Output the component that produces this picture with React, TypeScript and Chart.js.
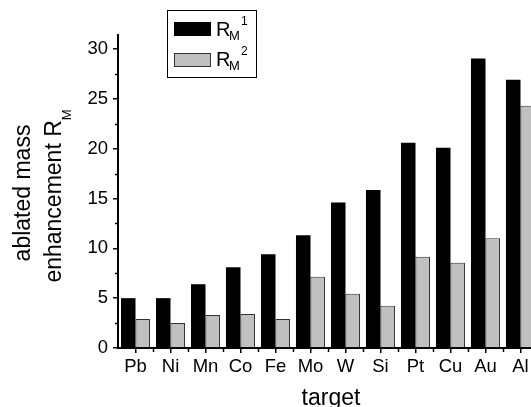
import React, { useEffect, useRef } from "react";
import { Chart, registerables } from "chart.js";

Chart.register(...registerables);

const categories = ["Pb", "Ni", "Mn", "Co", "Fe", "Mo", "W", "Si", "Pt", "Cu", "Au", "Al"];
const rm1 = [5.0, 5.0, 6.4, 8.1, 9.4, 11.3, 14.6, 15.85, 20.6, 20.1, 29.05, 26.9];
const rm2 = [2.9, 2.5, 3.3, 3.4, 2.9, 7.15, 5.45, 4.25, 9.15, 8.55, 11.0, 24.3];
const yTicks = [0, 5, 10, 15, 20, 25, 30];

const FONT = "'Liberation Sans', Arial, Helvetica, sans-serif";

const decorPlugin = {
  id: "decor",
  afterDraw(chart: any) {
    const ctx = chart.ctx as CanvasRenderingContext2D;
    const area = chart.chartArea;
    const ys = chart.scales.y;
    ctx.save();
    ctx.strokeStyle = "#000";
    ctx.fillStyle = "#000";
    ctx.lineWidth = 1.5;
    // y minor ticks
    for (let i = 0; i < yTicks.length; i++) {
      const v = yTicks[i] + 2.5;
      if (v > ys.max) continue;
      const py = Math.round(ys.getPixelForValue(v)) + 0.5;
      ctx.beginPath();
      ctx.moveTo(area.left - 3, py);
      ctx.lineTo(area.left, py);
      ctx.stroke();
    }
    // x minor ticks at category boundaries
    const n = categories.length;
    const w = (area.right - area.left) / n;
    for (let i = 1; i <= n; i++) {
      const px = Math.round(area.left + i * w) + 0.5;
      ctx.beginPath();
      ctx.moveTo(px, area.bottom);
      ctx.lineTo(px, area.bottom + 4);
      ctx.stroke();
    }

    // x title
    ctx.font = `23px ${FONT}`;
    ctx.textAlign = "center";
    ctx.textBaseline = "alphabetic";
    ctx.fillText("target", 331, 405);

    // y title (rotated)
    ctx.save();
    ctx.translate(30, 193);
    ctx.rotate(-Math.PI / 2);
    ctx.font = `23px ${FONT}`;
    ctx.textAlign = "center";
    ctx.fillText("ablated mass", 0, 0);
    ctx.restore();

    ctx.save();
    ctx.translate(61, 196);
    ctx.rotate(-Math.PI / 2);
    ctx.textAlign = "left";
    ctx.font = `23px ${FONT}`;
    const main = "enhancement R";
    const mw = ctx.measureText(main).width;
    ctx.font = `13px ${FONT}`;
    const sw = ctx.measureText("M").width;
    const total = mw + sw;
    ctx.font = `23px ${FONT}`;
    ctx.fillText(main, -total / 2, 0);
    ctx.font = `13px ${FONT}`;
    ctx.fillText("M", -total / 2 + mw, 10);
    ctx.restore();

    // legend
    ctx.lineWidth = 1;
    ctx.strokeStyle = "#000";
    ctx.strokeRect(167.5, 10.5, 89, 67);
    ctx.fillStyle = "#000";
    ctx.fillRect(174, 22, 37, 14);
    ctx.fillStyle = "#c0c0c0";
    ctx.fillRect(174, 53, 37, 14);
    ctx.strokeStyle = "#333";
    ctx.strokeRect(174.5, 53.5, 36, 13);

    ctx.fillStyle = "#000";
    ctx.textAlign = "left";
    const rows = [
      { base: 36, sup: "1" },
      { base: 66, sup: "2" },
    ];
    for (const r of rows) {
      ctx.font = `20px ${FONT}`;
      ctx.fillText("R", 216, r.base);
      ctx.font = `13px ${FONT}`;
      ctx.fillText("M", 229, r.base + 4);
      ctx.font = `12px ${FONT}`;
      ctx.fillText(r.sup, 241, r.base - 11);
    }
    ctx.restore();
  },
};

export default function App() {
  const ref = useRef<HTMLCanvasElement | null>(null);

  useEffect(() => {
    if (!ref.current) return;
    const chart = new Chart(ref.current, {
      type: "bar",
      data: {
        labels: categories,
        datasets: [
          {
            label: "RM1",
            data: rm1,
            backgroundColor: "#000",
            borderColor: "#000",
            borderWidth: 0,
            categoryPercentage: 0.83,
            barPercentage: 1,
          },
          {
            label: "RM2",
            data: rm2,
            backgroundColor: "#c0c0c0",
            borderColor: "#333",
            borderWidth: 1,
            categoryPercentage: 0.83,
            barPercentage: 1,
          },
        ],
      },
      options: {
        responsive: false,
        animation: false,
        devicePixelRatio: 1,
        layout: { padding: { left: 0, top: 35, right: 0, bottom: 0 } },
        plugins: {
          legend: { display: false },
          tooltip: { enabled: false },
          title: { display: false },
        },
        scales: {
          x: {
            type: "category",
            offset: true,
            grid: {
              display: true,
              offset: false,
              drawOnChartArea: false,
              drawTicks: true,
              tickLength: 5,
              color: "#000",
              lineWidth: 1.5,
            },
            border: { display: true, color: "#000", width: 2 },
            ticks: {
              color: "#000",
              font: { family: FONT, size: 18.5 },
              padding: 3,
              maxRotation: 0,
              autoSkip: false,
            },
            afterFit: (s: any) => {
              s.height = 59;
            },
          },
          y: {
            type: "linear",
            min: 0,
            max: 31.4,
            grid: {
              display: true,
              drawOnChartArea: false,
              drawTicks: true,
              tickLength: 5,
              color: "#000",
              lineWidth: 1.5,
            },
            border: { display: true, color: "#000", width: 2 },
            ticks: {
              stepSize: 5,
              includeBounds: false,
              color: "#000",
              font: { family: FONT, size: 18.5 },
              padding: 5,
              callback: (v: any) => (yTicks.includes(Number(v)) ? String(v) : ""),
            },
            afterFit: (s: any) => {
              s.width = 118;
            },
          },
        },
      },
      plugins: [decorPlugin],
    });
    return () => chart.destroy();
  }, []);

  return (
    <div
      style={{
        position: "fixed",
        left: 0,
        top: 0,
        width: 531,
        height: 407,
        overflow: "hidden",
        background: "#fff",
      }}
    >
      <canvas ref={ref} width={538} height={407} style={{ width: 538, height: 407, display: "block" }} />
    </div>
  );
}
